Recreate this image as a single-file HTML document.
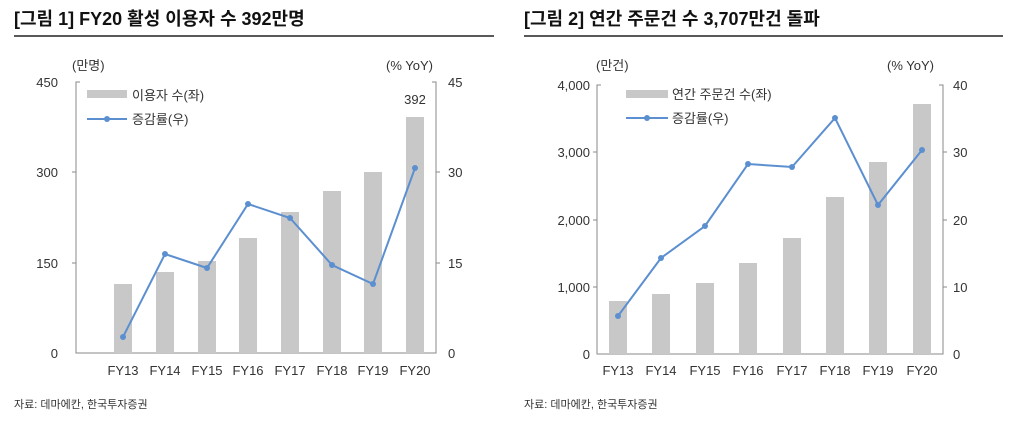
<!DOCTYPE html><html><head><meta charset="utf-8"><style>body{margin:0;background:#fff}svg text{font-family:"Liberation Sans","Noto Sans CJK KR",sans-serif}</style></head><body>
<svg width="1024" height="420" xmlns="http://www.w3.org/2000/svg">
<g font-size="18" font-weight="bold" fill="#111"><text x="14" y="25">[그림 1] FY20 활성 이용자 수 392만명</text><text x="524" y="25">[그림 2] 연간 주문건 수 3,707만건 돌파</text></g>
<line x1="14" y1="36" x2="494" y2="36" stroke="#222" stroke-width="1.5"/><line x1="524" y1="36" x2="1003" y2="36" stroke="#222" stroke-width="1.5"/>
<g font-size="13" fill="#333">
<text x="72" y="70">(만명)</text><text x="386" y="70">(% YoY)</text>
<g text-anchor="end"><text x="58" y="87">450</text><text x="58" y="177">300</text><text x="58" y="268">150</text><text x="58" y="358">0</text></g>
<text x="448" y="87">45</text><text x="448" y="177">30</text><text x="448" y="268">15</text><text x="448" y="358">0</text>
<g text-anchor="middle"><text x="123" y="375">FY13</text><text x="165" y="375">FY14</text><text x="207" y="375">FY15</text><text x="248" y="375">FY16</text><text x="290" y="375">FY17</text><text x="332" y="375">FY18</text><text x="373" y="375">FY19</text><text x="415" y="375">FY20</text><text x="415" y="104">392</text></g>
<text x="132" y="100">이용자 수(좌)</text><text x="132" y="124">증감률(우)</text>
<text x="14" y="408" font-size="11">자료: 데마에칸, 한국투자증권</text>
<text x="596" y="70">(만건)</text><text x="887" y="70">(% YoY)</text>
<g text-anchor="end"><text x="590" y="90">4,000</text><text x="590" y="157">3,000</text><text x="590" y="225">2,000</text><text x="590" y="292">1,000</text><text x="590" y="359">0</text></g>
<text x="953" y="90">40</text><text x="953" y="157">30</text><text x="953" y="225">20</text><text x="953" y="292">10</text><text x="953" y="359">0</text>
<g text-anchor="middle"><text x="618" y="375">FY13</text><text x="661" y="375">FY14</text><text x="705" y="375">FY15</text><text x="748" y="375">FY16</text><text x="792" y="375">FY17</text><text x="835" y="375">FY18</text><text x="878" y="375">FY19</text><text x="922" y="375">FY20</text></g>
<text x="672" y="99">연간 주문건 수(좌)</text><text x="672" y="123">증감률(우)</text>
<text x="524" y="408" font-size="11">자료: 데마에칸, 한국투자증권</text>
</g>
<g stroke="#888" fill="none"><path d="M80 82H76V353H436V82H432M72 172H76M72 263H76M436 172H440M436 263H440"/>
<path d="M601 85H597V354H943V85H939M593 152H597M593 220H597M593 287H597M943 152H947M943 220H947M943 287H947"/></g>
<g fill="#c8c8c8">
<rect x="87" y="90" width="40" height="8"/>
<rect x="114" y="284" width="18" height="69"/><rect x="156" y="272" width="18" height="81"/><rect x="198" y="261" width="18" height="92"/><rect x="239" y="238" width="18" height="115"/><rect x="281" y="212" width="18" height="141"/><rect x="323" y="191" width="18" height="162"/><rect x="364" y="172" width="18" height="181"/><rect x="406" y="117" width="18" height="236"/>
<rect x="626" y="90" width="42" height="8"/>
<rect x="609" y="301" width="18" height="53"/><rect x="652" y="294" width="18" height="60"/><rect x="696" y="283" width="18" height="71"/><rect x="739" y="263" width="18" height="91"/><rect x="783" y="238" width="18" height="116"/><rect x="826" y="197" width="18" height="157"/><rect x="869" y="162" width="18" height="192"/><rect x="913" y="104" width="18" height="250"/>
</g>
<g stroke="#5b8fd0" stroke-width="2" fill="none">
<path d="M87 119H127"/><path d="M123 337L165 254L207 268L248 204L290 218L332 265L373 284L415 168"/>
<path d="M626 118H668"/><path d="M618 316L661 258L705 226L748 164L792 167L835 118L878 205L922 150"/>
</g>
<g fill="#5b8fd0">
<circle cx="107" cy="119" r="3"/><circle cx="647" cy="118" r="3"/>
<circle cx="123" cy="337" r="3"/><circle cx="165" cy="254" r="3"/><circle cx="207" cy="268" r="3"/><circle cx="248" cy="204" r="3"/><circle cx="290" cy="218" r="3"/><circle cx="332" cy="265" r="3"/><circle cx="373" cy="284" r="3"/><circle cx="415" cy="168" r="3"/>
<circle cx="618" cy="316" r="3"/><circle cx="661" cy="258" r="3"/><circle cx="705" cy="226" r="3"/><circle cx="748" cy="164" r="3"/><circle cx="792" cy="167" r="3"/><circle cx="835" cy="118" r="3"/><circle cx="878" cy="205" r="3"/><circle cx="922" cy="150" r="3"/>
</g>
</svg></body></html>
